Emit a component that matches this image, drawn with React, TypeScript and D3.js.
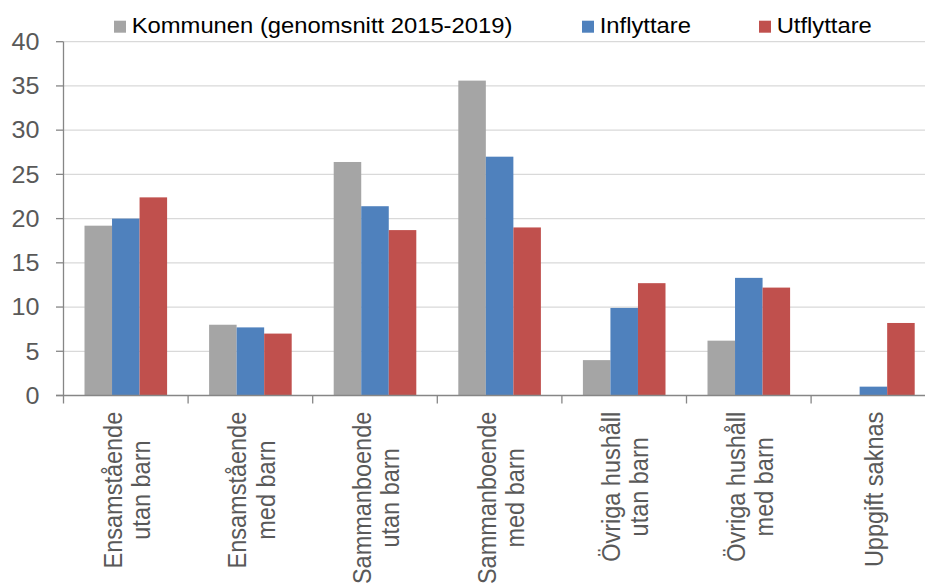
import React, { useEffect, useRef } from "react";
import * as d3 from "d3";

const categories: string[][] = [
  ["Ensamstående", "utan barn"],
  ["Ensamstående", "med barn"],
  ["Sammanboende", "utan barn"],
  ["Sammanboende", "med barn"],
  ["Övriga hushåll", "utan barn"],
  ["Övriga hushåll", "med barn"],
  ["Uppgift saknas"],
];
const seriesNames = ["Kommunen (genomsnitt 2015-2019)", "Inflyttare", "Utflyttare"];
const seriesColors = ["#a5a5a5", "#4f81bd", "#c0504d"];
const kommunen = [19.2, 8.0, 26.4, 35.6, 4.0, 6.2, 0.0];
const inflyttare = [20.0, 7.7, 21.4, 27.0, 9.9, 13.3, 1.0];
const utflyttare = [22.4, 7.0, 18.7, 19.0, 12.7, 12.2, 8.2];
const yTicks = [0, 5, 10, 15, 20, 25, 30, 35, 40];

export default function App() {
  const ref = useRef<SVGSVGElement>(null);
  useEffect(() => {
    const W = 925, H = 583;
    const svg = d3.select(ref.current);
    svg.selectAll("*").remove();
    const font = "'Liberation Sans', Arial, sans-serif";
    const sx = 1.1;
    const x0 = 63.5, bandW = 124.6;
    const series = [kommunen, inflyttare, utflyttare];
    const x = d3.scaleBand<number>().domain(d3.range(categories.length)).range([x0, x0 + categories.length * bandW]);
    const xs = d3.scaleBand<number>().domain(d3.range(series.length)).range([21, bandW - 21]);
    const y = d3.scaleLinear().domain([0, 40]).range([395.5, 41.7]);

    // gridlines
    svg.append("g").selectAll("line").data(yTicks.filter((t) => t > 0)).join("line")
      .attr("x1", x0).attr("x2", W).attr("y1", (d) => y(d)).attr("y2", (d) => y(d))
      .attr("stroke", "#d9d9d9").attr("stroke-width", 1.3);

    // bars
    series.forEach((vals, si) => {
      svg.append("g").selectAll("rect").data(vals).join("rect")
        .attr("x", (_, i) => (x(i) as number) + (xs(si) as number))
        .attr("width", xs.bandwidth())
        .attr("y", (d) => y(d))
        .attr("height", (d) => y(0) - y(d))
        .attr("fill", seriesColors[si]);
    });

    const axisColor = "#868686";
    // y axis
    svg.append("line").attr("x1", x0).attr("x2", x0).attr("y1", y(40)).attr("y2", y(0))
      .attr("stroke", axisColor).attr("stroke-width", 1.3);
    svg.append("g").selectAll("line").data(yTicks).join("line")
      .attr("x1", 56).attr("x2", x0).attr("y1", (d) => y(d)).attr("y2", (d) => y(d))
      .attr("stroke", axisColor).attr("stroke-width", 1.3);
    svg.append("g").selectAll("text").data(yTicks).join("text")
      .attr("transform", (d) => `translate(39.5,${y(d) + 8.3}) scale(1.08,1)`)
      .attr("text-anchor", "end")
      .attr("font-family", font).attr("font-size", 23.3).attr("fill", "#595959")
      .text((d) => d);

    // x axis
    svg.append("line").attr("x1", 56).attr("x2", W).attr("y1", y(0)).attr("y2", y(0))
      .attr("stroke", axisColor).attr("stroke-width", 1.3);
    svg.append("g").selectAll("line").data(d3.range(categories.length + 1)).join("line")
      .attr("x1", (i) => x0 + i * bandW).attr("x2", (i) => x0 + i * bandW)
      .attr("y1", y(0)).attr("y2", y(0) + 8)
      .attr("stroke", axisColor).attr("stroke-width", 1.3);

    // category labels
    const top = 411.7;
    categories.forEach((lines, ci) => {
      const cx = (x(ci) as number) + x.bandwidth() / 2;
      const offs = lines.length === 2 ? [-4, 24.2] : [10];
      const texts = lines.map((ln) =>
        svg.append("text").attr("text-anchor", "middle")
          .attr("font-family", font).attr("font-size", 23.5).attr("fill", "#595959")
          .text(ln)
      );
      const maxLen = d3.max(texts, (t) => (t.node() as SVGTextElement).getComputedTextLength()) || 0;
      texts.forEach((t, j) => {
        t.attr("transform", `translate(${cx + offs[j]},${top + maxLen / 2}) scale(${sx},1) rotate(-90)`);
      });
    });

    // legend
    const legendX = [114, 582, 759];
    seriesNames.forEach((name, i) => {
      svg.append("rect").attr("x", legendX[i]).attr("y", 20.7).attr("width", 12).attr("height", 12)
        .attr("fill", seriesColors[i]);
      svg.append("text")
        .attr("transform", `translate(${legendX[i] + 17.7},33.3) scale(1.107,1)`)
        .attr("font-family", font).attr("font-size", 21.5).attr("fill", "#000")
        .text(name);
    });
  }, []);
  return (
    <svg ref={ref} width={925} height={583}
      style={{ position: "absolute", left: 0, top: 0, background: "#fff" }} />
  );
}
